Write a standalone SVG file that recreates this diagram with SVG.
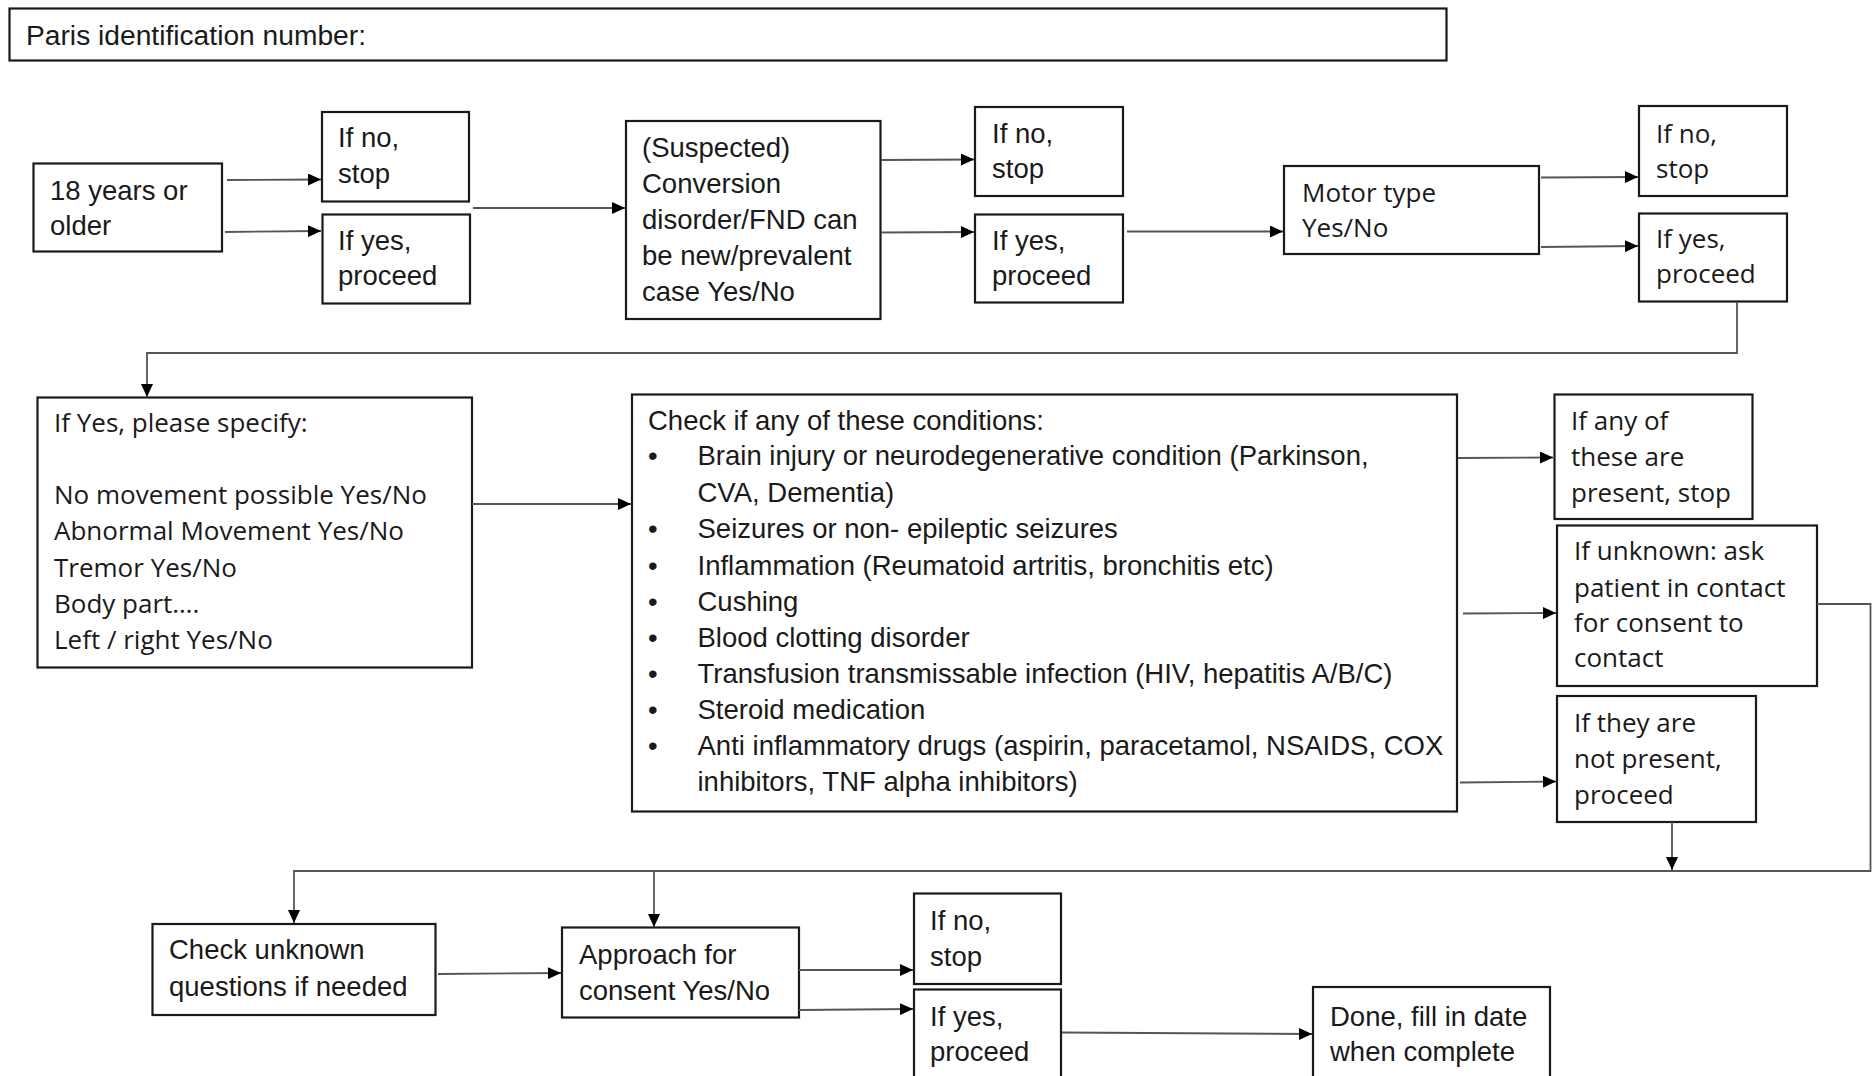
<svg xmlns="http://www.w3.org/2000/svg" width="1872" height="1076" viewBox="0 0 1872 1076">
<style>
.box{fill:#fff;stroke:#1a1a1a;stroke-width:2.2}
.c{font-family:"Liberation Sans",Arial,sans-serif;font-size:27.5px;fill:#1a1a1a}
.s{font-family:"Open Sans","Noto Sans",sans-serif;font-size:26px;fill:#1a1a1a}
.ln{fill:none;stroke:#555;stroke-width:1.8}
.ar{marker-end:url(#arr)}
</style>
<defs>
<marker id="arr" markerUnits="userSpaceOnUse" markerWidth="14" markerHeight="12" refX="13" refY="6" orient="auto">
<path d="M0,0 L13,6 L0,12 z" fill="#000"/>
</marker>
</defs>
<rect width="1872" height="1076" fill="#fff"/>

<g id="title"><rect class="box" x="9.5" y="8.5" width="1437" height="52"/><text class="c" x="26" y="45" style="font-size:28.2px">Paris identification number:</text></g>

<g id="age"><rect class="box" x="33.5" y="163.5" width="188.5" height="88"/><text class="c" x="50" y="200">18 years or</text><text class="c" x="50" y="235">older</text></g>
<g id="age-no"><rect class="box" x="322" y="112" width="147" height="89.5"/><text class="c" x="338" y="147">If no,</text><text class="c" x="338" y="183">stop</text></g>
<g id="age-yes"><rect class="box" x="322.5" y="214.5" width="147.5" height="89"/><text class="c" x="338" y="250">If yes,</text><text class="c" x="338" y="285">proceed</text></g>

<g id="fnd"><rect class="box" x="626" y="121" width="254.5" height="198"/>
<text class="c" x="642" y="157">(Suspected)</text><text class="c" x="642" y="193">Conversion</text><text class="c" x="642" y="229">disorder/FND can</text><text class="c" x="642" y="265">be new/prevalent</text><text class="c" x="642" y="301">case Yes/No</text></g>
<g id="fnd-no"><rect class="box" x="975" y="107" width="148" height="89"/><text class="c" x="992" y="143">If no,</text><text class="c" x="992" y="178">stop</text></g>
<g id="fnd-yes"><rect class="box" x="975" y="214.5" width="148" height="88"/><text class="c" x="992" y="250">If yes,</text><text class="c" x="992" y="285">proceed</text></g>

<g id="motor"><rect class="box" x="1284" y="166" width="255" height="88"/><text class="s" x="1302" y="202">Motor type</text><text class="s" x="1302" y="237">Yes/No</text></g>
<g id="motor-no"><rect class="box" x="1639" y="106" width="148" height="90"/><text class="s" x="1656" y="143">If no,</text><text class="s" x="1656" y="178">stop</text></g>
<g id="motor-yes"><rect class="box" x="1639" y="213.5" width="148" height="88"/><text class="s" x="1656" y="248">If yes,</text><text class="s" x="1656" y="283">proceed</text></g>

<g id="specify"><rect class="box" x="37.5" y="397.5" width="434.5" height="270"/>
<text class="s" x="54" y="432">If Yes, please specify:</text>
<text class="s" x="54" y="504">No movement possible Yes/No</text>
<text class="s" x="54" y="540">Abnormal Movement Yes/No</text>
<text class="s" x="54" y="577">Tremor Yes/No</text>
<text class="s" x="54" y="613">Body part….</text>
<text class="s" x="54" y="649">Left / right Yes/No</text></g>

<g id="conditions"><rect class="box" x="632" y="394.5" width="825" height="417"/>
<text class="c" x="648" y="430">Check if any of these conditions:</text>
<g class="c">
<text x="648" y="465">•</text><text x="697.5" y="465">Brain injury or neurodegenerative condition (Parkinson,</text>
<text x="697.5" y="501.5">CVA, Dementia)</text>
<text x="648" y="538">•</text><text x="697.5" y="538">Seizures or non- epileptic seizures</text>
<text x="648" y="574.5">•</text><text x="697.5" y="574.5">Inflammation (Reumatoid artritis, bronchitis etc)</text>
<text x="648" y="610.5">•</text><text x="697.5" y="610.5">Cushing</text>
<text x="648" y="646.5">•</text><text x="697.5" y="646.5">Blood clotting disorder</text>
<text x="648" y="682.5">•</text><text x="697.5" y="682.5">Transfusion transmissable infection (HIV, hepatitis A/B/C)</text>
<text x="648" y="718.5">•</text><text x="697.5" y="718.5">Steroid medication</text>
<text x="648" y="755">•</text><text x="697.5" y="755">Anti inflammatory drugs (aspirin, paracetamol, NSAIDS, COX</text>
<text x="697.5" y="791">inhibitors, TNF alpha inhibitors)</text>
</g></g>

<g id="present-stop"><rect class="box" x="1554.5" y="394.5" width="198" height="124.5"/><text class="s" x="1571" y="430">If any of</text><text class="s" x="1571" y="466">these are</text><text class="s" x="1571" y="502">present, stop</text></g>
<g id="unknown"><rect class="box" x="1557" y="525.5" width="260" height="160.5"/><text class="s" x="1574" y="560">If unknown: ask</text><text class="s" x="1574" y="597">patient in contact</text><text class="s" x="1574" y="632">for consent to</text><text class="s" x="1574" y="667">contact</text></g>
<g id="not-present"><rect class="box" x="1557" y="696" width="199" height="126"/><text class="s" x="1574" y="732">If they are</text><text class="s" x="1574" y="768">not present,</text><text class="s" x="1574" y="804">proceed</text></g>

<g id="check-unknown"><rect class="box" x="152.5" y="924" width="283" height="91"/><text class="c" x="169" y="959">Check unknown</text><text class="c" x="169" y="996">questions if needed</text></g>
<g id="consent"><rect class="box" x="562" y="927.5" width="237" height="90"/><text class="c" x="579" y="964">Approach for</text><text class="c" x="579" y="1000">consent Yes/No</text></g>
<g id="consent-no"><rect class="box" x="914" y="893.5" width="147" height="90.5"/><text class="c" x="930" y="930">If no,</text><text class="c" x="930" y="966">stop</text></g>
<g id="consent-yes"><rect class="box" x="914" y="989.5" width="147" height="100"/><text class="c" x="930" y="1026">If yes,</text><text class="c" x="930" y="1061">proceed</text></g>
<g id="done"><rect class="box" x="1313" y="987" width="237" height="100"/><text class="c" x="1330" y="1026">Done, fill in date</text><text class="c" x="1330" y="1061">when complete</text></g>

<g id="connectors">
<path class="ln ar" d="M227,180 L321,179.5"/>
<path class="ln ar" d="M225,232 L321,231"/>
<path class="ln ar" d="M473,208 L625,208"/>
<path class="ln ar" d="M881,160 L974,159.5"/>
<path class="ln ar" d="M881,232.5 L974,232"/>
<path class="ln ar" d="M1127,231.5 L1283,231.5"/>
<path class="ln ar" d="M1541,177.5 L1638,177"/>
<path class="ln ar" d="M1541,247 L1638,246"/>
<path class="ln ar" d="M1737,302 L1737,353 L147,353 L147,397"/>
<path class="ln ar" d="M472,504 L631,504"/>
<path class="ln ar" d="M1458,458 L1553,457.5"/>
<path class="ln ar" d="M1463,613.5 L1556,613"/>
<path class="ln ar" d="M1460,782.5 L1556,781.5"/>
<path class="ln ar" d="M1817,604 L1870.5,604 L1870.5,871 L294,871 L294,923"/>
<path class="ln ar" d="M654,871 L654,927"/>
<path class="ln ar" d="M1672,822 L1672,870"/>
<path class="ln ar" d="M438,974 L561,973"/>
<path class="ln ar" d="M799,970 L913,970"/>
<path class="ln ar" d="M799,1010 L913,1009"/>
<path class="ln ar" d="M1062,1032.5 L1312,1034"/>
</g>
</svg>
